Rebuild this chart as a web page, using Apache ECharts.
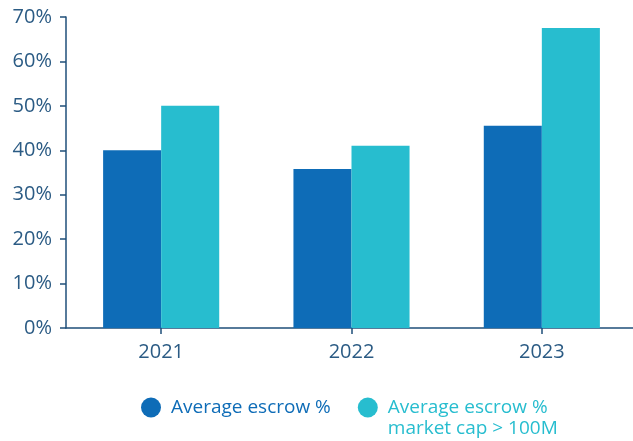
<!DOCTYPE html>
<html>
<head>
<meta charset="utf-8">
<script src="https://cdn.jsdelivr.net/npm/echarts@6/dist/echarts.min.js"></script>
<style>
  html, body { margin: 0; padding: 0; background: #ffffff; }
  #chart { width: 633px; height: 441px; }
</style>
</head>
<body>
<div id="chart"></div>
<script>
// Escrow share by year, all deals vs. deals with market cap above 100M
const years = ['2021', '2022', '2023'];
const seriesNames = ['Average escrow %', 'Average escrow %\nmarket cap > 100M'];
const avgEscrow = [40, 35.8, 45.5];
const avgEscrowLargeCap = [50, 41, 67.5];
const yTicks = [0, 10, 20, 30, 40, 50, 60, 70];

const darkBlue = '#0e6cb7';
const cyan = '#27bdcf';
const axisColor = '#1f4f7a';
const labelColor = '#2b5b84';
const fontFamily = '"Open Sans", "Noto Sans", sans-serif';

const chart = echarts.init(document.getElementById('chart'), null, { renderer: 'canvas' });

chart.setOption({
  animation: false,
  backgroundColor: '#ffffff',
  // the category axis runs slightly past the right edge of the canvas
  grid: { left: 66, width: 571, top: 17, bottom: 113, containLabel: false, outerBoundsMode: 'none' },
  legend: {
    bottom: -3,
    left: 136,
    icon: 'circle',
    itemWidth: 30,
    itemHeight: 20,
    itemGap: 27,
    selectedMode: false,
    textStyle: { fontFamily: fontFamily, fontSize: 19, lineHeight: 21 },
    // leading blank line keeps the circle level with the first text line
    formatter: function (name) { return name.indexOf('\n') >= 0 ? '\n' + name : name; },
    data: [
      { name: seriesNames[0], textStyle: { color: darkBlue } },
      { name: seriesNames[1], textStyle: { color: cyan } }
    ]
  },
  xAxis: {
    type: 'category',
    data: years,
    axisLine: { show: true, lineStyle: { color: axisColor, width: 1.5 } },
    axisTick: { show: true, alignWithLabel: true, length: 6, lineStyle: { color: axisColor, width: 1.5 } },
    axisLabel: { color: labelColor, fontFamily: fontFamily, fontSize: 20, margin: 14 }
  },
  yAxis: {
    type: 'value',
    min: yTicks[0],
    max: yTicks[yTicks.length - 1],
    interval: yTicks[1] - yTicks[0],
    axisLine: { show: true, lineStyle: { color: axisColor, width: 1.5 } },
    axisTick: { show: true, length: 6, lineStyle: { color: axisColor, width: 1.5 } },
    splitLine: { show: false },
    axisLabel: { color: labelColor, fontFamily: fontFamily, fontSize: 20, margin: 14, formatter: '{value}%' }
  },
  series: [
    {
      name: seriesNames[0],
      type: 'bar',
      data: avgEscrow,
      barGap: '0%',
      barCategoryGap: '39%',
      itemStyle: { color: darkBlue }
    },
    {
      name: seriesNames[1],
      type: 'bar',
      data: avgEscrowLargeCap,
      barGap: '0%',
      barCategoryGap: '39%',
      itemStyle: { color: cyan }
    }
  ]
});
</script>
</body>
</html>
